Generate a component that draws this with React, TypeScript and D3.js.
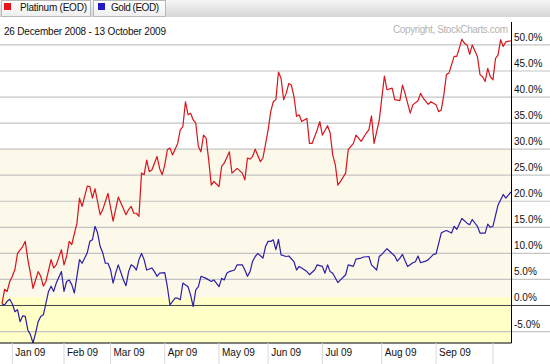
import React from 'react';
import * as d3 from 'd3';

// trading-day index (0 = 26 Dec 2008) and % change since start
const platinum: [number, number][] = [
  [0, 0.3], [1, 3.1], [2, 2.7], [3, 4.6], [4, 5.6], [5, 6.9], [6, 10], [8, 11.3], [9, 12.3], [10, 8.8],
  [11, 6.2], [12, 3.3], [14, 6.5], [15, 5.6], [16, 3.7], [17, 4.6], [19, 8.8], [20, 7.2], [21, 7.8], [23, 10.7],
  [24, 7.8], [25, 9.4], [26, 12.3], [27, 11.7], [29, 15.8], [30, 20.6], [31, 19], [33, 22.9], [34, 22.8], [35, 20.6],
  [36, 22.4], [38, 17.4], [39, 18.4], [41, 21.5], [43, 16.2], [45, 20.8], [48, 17.4], [49, 18.4], [50, 19], [51, 17.7],
  [52, 17.7], [53, 17.1], [54, 25.4], [55, 25.1], [56, 27.9], [57, 25.7], [58, 26], [60, 28.6], [61, 26.3], [62, 25.1],
  [63, 27], [64, 29.9], [65, 30.2], [66, 28.9], [68, 31.1], [69, 33.7], [70, 34.3], [71, 39.1], [72, 36.6], [73, 36.9],
  [74, 35.6], [75, 35], [76, 30.5], [77, 29.5], [78, 32.7], [79, 32.1], [80, 27.9], [81, 23.1], [82, 23.8], [84, 22.8],
  [85, 26.7], [86, 27.3], [88, 29.5], [89, 25.4], [91, 26.3], [93, 25.4], [94, 24.1], [95, 28.3], [96, 28.1], [97, 28.6],
  [98, 30], [100, 27.6], [101, 28.3], [103, 33.7], [104, 37.2], [105, 39.1], [106, 39.5], [107, 44.8], [108, 43.6], [109, 39.5],
  [110, 40.7], [111, 42.6], [112, 42.3], [113, 40.1], [114, 36.3], [115, 36.6], [116, 35.3], [118, 35.9], [119, 31.1], [120, 31.1],
  [122, 33.7], [123, 35.3], [124, 32.7], [126, 34.5], [127, 33.1], [128, 28.9], [129, 27], [130, 23.1], [131, 23.8], [133, 25.4],
  [134, 29.9], [136, 31.1], [137, 32.7], [139, 31.5], [141, 33.1], [142, 33.7], [143, 36.4], [144, 31.1], [146, 35.5], [147, 39.8],
  [148, 44], [149, 41.4], [151, 41.7], [152, 39.5], [154, 39.3], [155, 42.3], [156, 40.7], [158, 36.9], [159, 38.5], [161, 39.3],
  [162, 40.7], [163, 39.8], [165, 38.6], [166, 39.1], [168, 38.5], [169, 37.2], [170, 37.5], [171, 40.4], [172, 44.3], [173, 44.6],
  [175, 47.8], [176, 47.8], [177, 49.4], [178, 51.1], [179, 50.3], [180, 50], [181, 48.2], [182, 50], [184, 47.8], [185, 44.3],
  [186, 43.9], [187, 43], [188, 45.5], [189, 43.9], [190, 43.3], [191, 47.4], [192, 48.1], [193, 51], [194, 49.7], [195, 50.6],
  [197, 50.8],
];

const gold: [number, number][] = [
  [0, 0.3], [1, 0.1], [2, 0.8], [3, 1.2], [4, 0.3], [5, -1.2], [6, -0.8], [7, -3.1], [8, -2], [9, -2.1],
  [10, -4.7], [11, -5.6], [12, -7.2], [13, -5.3], [14, -3.1], [15, -2.1], [16, -1.8], [17, 0.4], [18, 2.7], [19, 3.7],
  [20, 2.7], [21, 4.3], [23, 6.5], [24, 2.7], [25, 4.6], [26, 4.9], [27, 4], [28, 2.4], [29, 5.6], [30, 8.8],
  [31, 8.1], [33, 10.1], [34, 12.3], [35, 12.6], [36, 15.2], [37, 13.9], [38, 11.3], [39, 10.1], [40, 8.1], [41, 8.1],
  [42, 6.9], [43, 4.3], [44, 6.2], [45, 7.8], [47, 4.9], [48, 3.8], [49, 6.5], [50, 7.8], [51, 7.5], [52, 6.8],
  [53, 8.8], [54, 10], [55, 8.8], [56, 6.8], [58, 7.2], [59, 6.5], [60, 5.6], [61, 6.2], [63, 6.3], [64, 3.6],
  [65, 0.1], [67, 1.4], [68, 1.4], [69, 1.1], [70, 4.3], [72, 3.6], [73, 2], [74, -0.2], [75, 3], [76, 3.6],
  [77, 5.6], [79, 5.2], [81, 4.6], [82, 4.9], [84, 3.6], [85, 5.2], [86, 4.9], [87, 6.2], [88, 6.5], [90, 6.8],
  [91, 7.8], [93, 7.8], [94, 6.8], [95, 5.6], [96, 6.5], [97, 8.5], [98, 9.4], [99, 10], [101, 9.1], [102, 11.3],
  [103, 12.3], [104, 12.3], [105, 12.6], [106, 10.7], [107, 12.7], [108, 9.7], [110, 9.4], [111, 9.5], [113, 8.4], [114, 6.8],
  [115, 7.5], [116, 7.2], [118, 6.5], [119, 5.9], [121, 6.8], [122, 7.8], [124, 7.5], [125, 6.2], [126, 7.8], [127, 6.5],
  [128, 6.2], [130, 4.4], [131, 4.9], [133, 5.9], [134, 7.8], [136, 7.5], [137, 8.9], [139, 9.1], [140, 9.3], [142, 9.4],
  [143, 7.8], [145, 6.8], [146, 9.4], [147, 9.8], [149, 10.9], [150, 10.4], [152, 9.5], [153, 8.5], [154, 9.1], [155, 9.8],
  [156, 8.6], [157, 7.5], [159, 8.2], [160, 8.4], [161, 9.5], [162, 8.2], [164, 8.5], [165, 8.8], [167, 9.8], [168, 9.9],
  [170, 13.9], [171, 14.2], [172, 14.4], [174, 13.9], [175, 15.2], [176, 14.6], [178, 16.7], [180, 15.8], [181, 15.5], [182, 16.5],
  [184, 15.2], [185, 13.9], [187, 13.9], [188, 15.6], [189, 15], [190, 15.2], [192, 19.3], [193, 20.3], [194, 21.3], [195, 20.6],
  [197, 21.8],
];

// first trading day of each month (index) and its label
const monthStarts = [4, 24, 42, 63, 84, 103, 124, 147, 168, 190];
const monthLabels = ['Jan 09', 'Feb 09', 'Mar 09', 'Apr 09', 'May 09', 'Jun 09', 'Jul 09', 'Aug 09', 'Sep 09', ''];

const yTicks = [-5, 0, 5, 10, 15, 20, 25, 30, 35, 40, 45, 50];

const W = 550;
const H = 364;
const FONT = '"Liberation Sans", Arial, sans-serif';

const App = () => {
  const plotLeft = 2;
  const plotRight = 511.5;
  const plotTop = 22;
  const plotBottom = 343;

  const x = d3.scaleLinear().domain([0, 197]).range([plotLeft, plotRight - 0.5]);
  const y = d3.scaleLinear().domain([-7.2, 54.4]).range([plotBottom, plotTop]);

  const line = d3.line<[number, number]>()
    .x(d => x(d[0]))
    .y(d => y(d[1]));

  return (
    <div>
      <style>{`body { margin: 0; }`}</style>
      <svg width={W} height={H} style={{ display: 'block' }} fontFamily={FONT}>
        <defs>
          <linearGradient id="hdr" x1="0" y1="0" x2="0" y2="1">
            <stop offset="0" stopColor="#f6f6f6" />
            <stop offset="1" stopColor="#d6d6d6" />
          </linearGradient>
          <linearGradient id="tab" x1="0" y1="0" x2="0" y2="1">
            <stop offset="0" stopColor="#ffffff" />
            <stop offset="1" stopColor="#eeeeee" />
          </linearGradient>
          <clipPath id="plotClip">
            <rect x={0} y={plotTop} width={plotRight} height={plotBottom - plotTop} />
          </clipPath>
        </defs>

        <rect width={W} height={H} fill="#fff" />

        {/* background zones */}
        <rect x={0} y={y(30)} width={plotRight} height={y(1.6) - y(30)} fill="#fcf8ea" />
        <rect x={0} y={y(1.6)} width={plotRight} height={plotBottom - y(1.6)} fill="#ffffc8" />

        {/* gridlines + labels */}
        {yTicks.map(t => (
          <g key={t}>
            <line x1={0} x2={W} y1={y(t)} y2={y(t)}
              stroke={t === 0 ? '#444' : '#c4c4c4'} strokeWidth={t === 0 ? 1 : 1.2} />
            <text x={514} y={y(t) - 4} fontSize={10} fill="#111">{t.toFixed(1)}%</text>
          </g>
        ))}

        {/* series */}
        <g clipPath="url(#plotClip)" fill="none" strokeWidth={1.2} strokeLinejoin="round">
          <path d={line(gold) || ''} stroke="#2b1fa6" />
          <path d={line(platinum) || ''} stroke="#d8141c" />
        </g>

        {/* frame */}
        <line x1={plotRight} x2={plotRight} y1={plotTop} y2={plotBottom} stroke="#000" />
        <line x1={0} x2={plotRight} y1={plotBottom} y2={plotBottom} stroke="#000" />

        {/* month axis */}
        {monthStarts.map((d, i) => (
          <g key={d}>
            <line x1={x(d)} x2={x(d)} y1={plotBottom} y2={H} stroke="#d8d8d8" />
            {monthLabels[i] && (
              <text x={x(d) + 3} y={356} fontSize={10} fill="#111">{monthLabels[i]}</text>
            )}
          </g>
        ))}

        {/* header */}
        <rect x={0} y={0} width={W} height={17} fill="url(#hdr)" />
        <rect x={1.5} y={0.5} width={89} height={16} fill="url(#tab)" stroke="#b8b8b8" />
        <rect x={4} y={3} width={7} height={7} fill="#e8141c" />
        <text x={20} y={11} fontSize={10} fill="#111" textLength={67}>Platinum (EOD)</text>
        <rect x={93.5} y={0.5} width={72} height={16} fill="url(#tab)" stroke="#b8b8b8" />
        <rect x={98} y={3} width={7} height={7} fill="#2418c8" />
        <text x={111} y={11} fontSize={10} fill="#111" textLength={48}>Gold (EOD)</text>

        <text x={4} y={35} fontSize={10} fill="#111" textLength={162}>26 December 2008 - 13 October 2009</text>
        <text x={393} y={33} fontSize={10} fill="#b4b4b4" textLength={115}>Copyright, StockCharts.com</text>
      </svg>
    </div>
  );
};

export default App;
